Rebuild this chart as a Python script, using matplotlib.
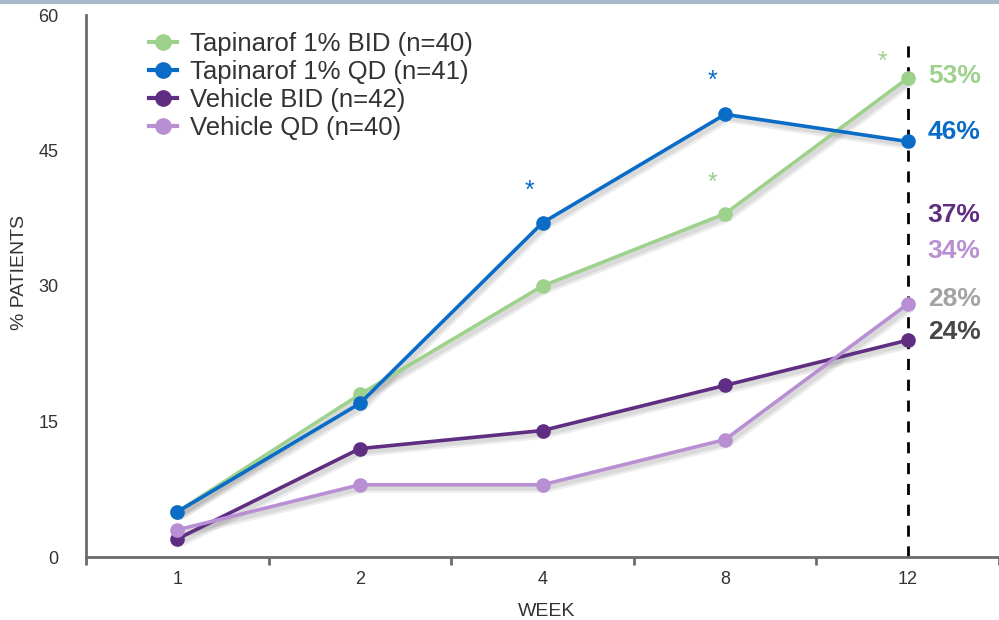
import matplotlib
matplotlib.use("Agg")
import matplotlib.pyplot as plt
import matplotlib.transforms as mtrans
from matplotlib.lines import Line2D

plt.rcParams['font.family'] = ['Liberation Sans', 'DejaVu Sans']

weeks = ["1", "2", "4", "8", "12"]
tap_bid = [5, 18, 30, 38, 53]
tap_qd = [5, 17, 37, 49, 46]
veh_bid = [2, 12, 14, 19, 24]
veh_qd = [3, 8, 8, 13, 28]

series_names = ["Tapinarof 1% BID (n=40)", "Tapinarof 1% QD (n=41)",
                "Vehicle BID (n=42)", "Vehicle QD (n=40)"]
series_colors = ["#9dd18c", "#0a6cc6", "#5f2d82", "#b98fd4"]

end_labels = ["53%", "46%", "37%", "34%", "28%", "24%"]
end_label_y = [53.3, 47.0, 37.9, 33.9, 28.6, 24.9]
end_label_colors = ["#9dd18c", "#0a6cc6", "#5f2d82", "#b98fd4", "#a3a3a3", "#474747"]

# asterisks: (x position index, y value, color)
stars_x = [2.93, 3.93, 3.93, 4.86]
stars_y = [40.5, 52.7, 41.4, 54.8]
stars_c = ["#0a6cc6", "#0a6cc6", "#9dd18c", "#9dd18c"]

fig = plt.figure(figsize=(9.99, 6.2), dpi=100)
ax = fig.add_axes([86/999, 63/620, 1 - 86/999, (557-15)/620])

x = list(range(1, len(weeks) + 1))
for vals, c, name in zip([tap_bid, tap_qd, veh_bid, veh_qd], series_colors, series_names):
    for dx, dy, a, w in [(3, -4, 0.10, 6), (2.5, -3.5, 0.12, 3.5)]:
        tr = mtrans.offset_copy(ax.transData, fig=fig, x=dx, y=dy, units="dots")
        ax.plot(x, vals, color="#555555", lw=w, alpha=a, transform=tr, zorder=2,
                solid_capstyle="round")
    ax.plot(x, vals, color=c, lw=2.6, marker="o", ms=9.5, label=name, zorder=3)

ax.set_xlim(0.5, 5.5)
ax.set_ylim(0, 60)
ax.vlines(5, 0, 56.7, colors="black", linestyles=(0, (4, 3.5)), lw=2, zorder=2.5)

for t, yv, c in zip(end_labels, end_label_y, end_label_colors):
    ax.text(5.11, yv, t, color=c, fontsize=19, fontweight="bold", va="center", ha="left")

for sx, sy, sc in zip(stars_x, stars_y, stars_c):
    ax.text(sx, sy, "*", color=sc, fontsize=18, ha="center", va="center")

for s in ["top", "right"]:
    ax.spines[s].set_visible(False)
for s in ["left", "bottom"]:
    ax.spines[s].set_color("#6b6b6b")
    ax.spines[s].set_linewidth(2)

ax.set_yticks([0, 15, 30, 45, 60])
ax.tick_params(axis="y", length=0, pad=20, labelsize=13, labelcolor="#333333")
ax.set_xticks(x)
ax.set_xticklabels(weeks)
ax.set_xticks([0.5, 1.5, 2.5, 3.5, 4.5, 5.5], minor=True)
ax.tick_params(axis="x", which="major", length=0, pad=10, labelsize=13, labelcolor="#333333")
ax.tick_params(axis="x", which="minor", length=6, width=2, color="#6b6b6b", direction="out")

ax.set_xlabel("WEEK", fontsize=14, color="#333333")
ax.xaxis.set_label_coords((547-86)/913, -(603-557)/542)
ax.set_ylabel("% PATIENTS", fontsize=14, color="#333333")
ax.yaxis.set_label_coords(-(86-28)/913, (557-272)/542)

handles = [Line2D([0], [0], color=c, lw=3, marker="o", ms=11) for c in series_colors]
leg = ax.legend(handles, series_names, loc="upper left", bbox_to_anchor=(0.058, 0.987),
                frameon=False, fontsize=18.5, handlelength=1.1, handletextpad=0.5,
                labelspacing=0.15, borderaxespad=0.0)
for t in leg.get_texts():
    t.set_color("#333333")

fig.add_artist(Line2D([0, 1], [0.997, 0.997], transform=fig.transFigure,
                      color="#a9b9cc", lw=3))

fig.savefig("out.png", dpi=100)
